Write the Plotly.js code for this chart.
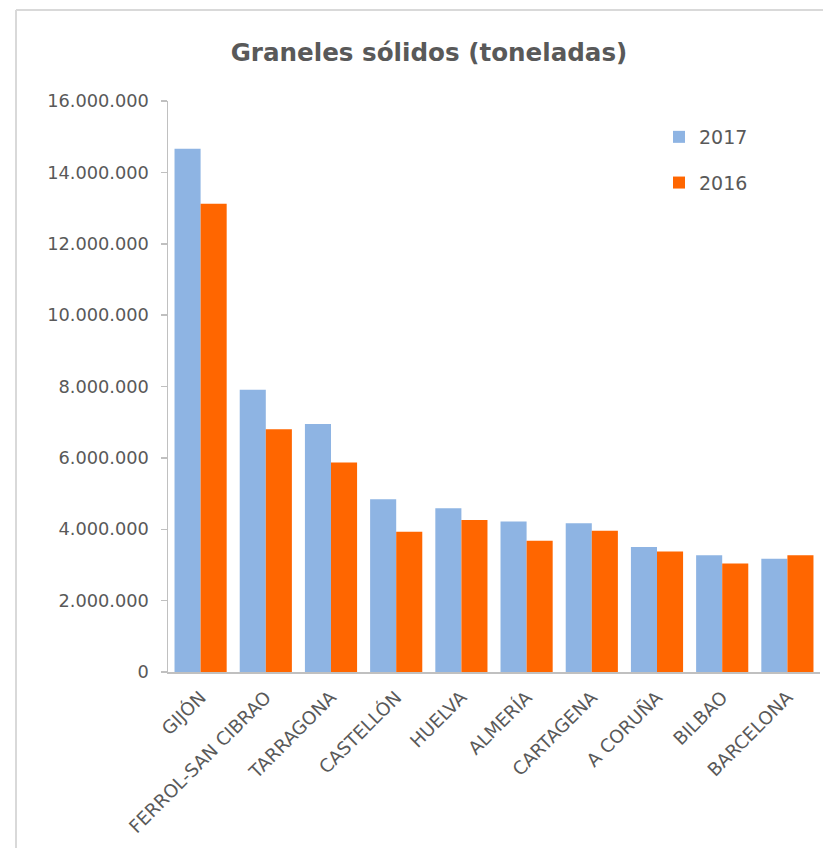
<!DOCTYPE html>
<html>
<head>
<meta charset="utf-8">
<script src="https://cdn.plot.ly/plotly-3.0.1.min.js"></script>
<style>
  html, body { margin: 0; padding: 0; background: #ffffff; }
  #chart { width: 823px; height: 848px; }
</style>
</head>
<body>
<div id="chart"></div>
<script>
const ports = ['GIJÓN', 'FERROL-SAN CIBRAO', 'TARRAGONA', 'CASTELLÓN', 'HUELVA', 'ALMERÍA', 'CARTAGENA', 'A CORUÑA', 'BILBAO', 'BARCELONA'];
const values2017 = [14660000, 7910000, 6950000, 4840000, 4590000, 4220000, 4170000, 3500000, 3270000, 3170000];
const values2016 = [13120000, 6800000, 5870000, 3930000, 4260000, 3680000, 3960000, 3380000, 3040000, 3270000];
const seriesNames = ['2017', '2016'];
const yTicks = [0, 2000000, 4000000, 6000000, 8000000, 10000000, 12000000, 14000000, 16000000];

const FONT = '"DejaVu Sans", "Liberation Sans", sans-serif';
const TXT = '#595959';
const AX = '#c0c0c0';

const traces = [
  { type: 'bar', name: seriesNames[0], x: ports, y: values2017, legendgroup: 'a',
    marker: { color: '#8EB4E3' }, hoverinfo: 'x+y+name' },
  { type: 'bar', name: seriesNames[1], x: ports, y: values2016, legendgroup: 'b',
    marker: { color: '#FF6600' }, hoverinfo: 'x+y+name' }
];

const L = 168, R = 3, T = 101, B = 176;
const W = 823, H = 848;
const pw = W - L - R, ph = H - T - B;
const px = v => (v - L) / pw;
const py = v => (H - B - v) / ph;

const layout = {
  width: W, height: H,
  margin: { l: L, r: R, t: T, b: B },
  paper_bgcolor: '#ffffff', plot_bgcolor: '#ffffff',
  separators: ',.',
  font: { family: FONT, color: TXT, size: 17 },
  title: { text: '<b>Graneles sólidos (toneladas)</b>', font: { family: FONT, size: 24.6, color: TXT },
           x: 429 / W, xanchor: 'center', xref: 'container', y: 1 - 52 / H, yanchor: 'middle', yref: 'container' },
  barmode: 'group', bargap: 0.2, bargroupgap: 0,
  xaxis: { showline: true, linecolor: AX, linewidth: 1.5, ticks: '', tickangle: -45,
           tickfont: { family: FONT, size: 18.3, color: TXT }, showgrid: false, zeroline: false, fixedrange: true,
           ticklabelstandoff: 6 },
  yaxis: { range: [0, 16000000], tickvals: yTicks, tickformat: ',d', showline: true, linecolor: AX, linewidth: 1.5,
           ticks: 'outside', ticklen: 6, tickcolor: AX, tickwidth: 1.5, showgrid: false, zeroline: false,
           tickfont: { family: FONT, size: 17.8, color: TXT }, ticklabelstandoff: 8 },
  legend: { x: px(659), y: py(118), xanchor: 'left', yanchor: 'top', tracegroupgap: 18,
            font: { family: FONT, size: 19, color: TXT }, bgcolor: 'rgba(0,0,0,0)', itemwidth: 30 },
  shapes: [
    { type: 'line', xref: 'paper', yref: 'paper', x0: px(16), x1: px(16), y0: py(10), y1: py(860),
      line: { color: '#d9d9d9', width: 2 } },
    { type: 'line', xref: 'paper', yref: 'paper', x0: px(16), x1: px(830), y0: py(10), y1: py(10),
      line: { color: '#d9d9d9', width: 2 } }
  ]
};

Plotly.newPlot('chart', traces, layout, { displayModeBar: false, staticPlot: true });
</script>
</body>
</html>
